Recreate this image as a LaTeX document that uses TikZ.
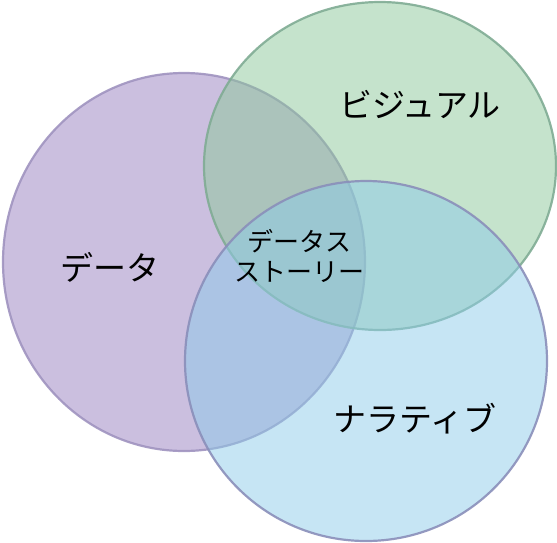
\documentclass[tikz,border=0pt]{standalone}
\usepackage{fontspec}
\setmainfont{Noto Sans CJK JP}
\definecolor{datapurple}{RGB}{151, 127, 191}
\definecolor{visgreen}{RGB}{139, 199, 153}
\definecolor{narblue}{RGB}{141, 203, 233}
\definecolor{dataline}{RGB}{160, 148, 192}
\definecolor{visline}{RGB}{128, 172, 148}
\definecolor{narline}{RGB}{138, 143, 186}
\usetikzlibrary{positioning}

\begin{document}
\begin{tikzpicture}[x=1pt, y=-1pt,
  setfill/.style={fill opacity=0.5, draw opacity=0.9, line width=2.2pt},
  biglabel/.style={font=\fontsize{33}{39}\selectfont, text=black, inner sep=0pt},
  midlabel/.style={font=\fontsize{26}{30}\selectfont, text=black, align=center, inner sep=0pt}]
  \useasboundingbox (0, 0) rectangle (557, 542);

  % Data circle
  \filldraw[setfill, fill=datapurple, draw=dataline] (184, 262) ellipse [x radius=181, y radius=189];

  % Visual circle
  \filldraw[setfill, fill=visgreen, draw=visline] (380, 166) ellipse [x radius=176, y radius=164];

  % Narrative circle
  \filldraw[setfill, fill=narblue, draw=narline] (366, 361) ellipse [x radius=181, y radius=180];

  % Labels
  \node[biglabel] (data) at (110, 267) {データ};
  \node[biglabel] (visual) at (420, 105) {ビジュアル};
  \node[biglabel] (narrative) at (415, 419) {ナラティブ};
  \node[midlabel] (story) at (299, 256) {データス\\ストーリー};
\end{tikzpicture}
\end{document}
